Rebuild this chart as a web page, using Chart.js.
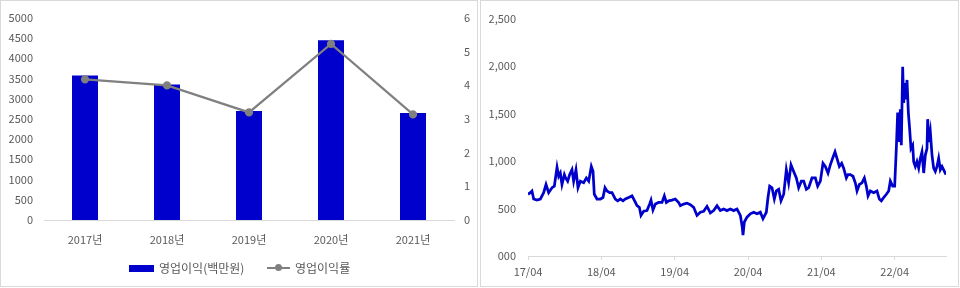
<!DOCTYPE html>
<html>
<head>
<meta charset="utf-8">
<script src="https://cdn.jsdelivr.net/npm/chart.js@4.4.0/dist/chart.umd.min.js"></script>
<style>
  body { margin: 0; background: #fff; width: 960px; height: 288px; overflow: hidden; }
  .wrap { position: absolute; top: 0; }
  .frame { position: absolute; top: 0; border: 1px solid #d9d9d9; box-sizing: border-box; pointer-events: none; }
  .legend { position: absolute; top: 259px; left: 0; width: 478px; height: 18px;
            font: 12px "Noto Sans CJK KR", sans-serif; color: #595959; }
  .legend span { position: absolute; top: 0; line-height: 18px; }
  .lg-box { position: absolute; left: 129px; top: 6px; width: 25px; height: 7px; background: #0000CC; }
  .lg-line { position: absolute; left: 267px; top: 8px; width: 23px; height: 2px; background: #808080; }
  .lg-dot { position: absolute; left: 275px; top: 5px; width: 7px; height: 7px; border-radius: 50%; background: #808080; }
</style>
</head>
<body>
<div class="wrap" style="left:0;width:478px;height:287px;"><canvas id="profit"></canvas></div>
<div class="legend" id="profit-legend"></div>
<div class="frame" style="left:0;width:478px;height:287px;"></div>

<div class="wrap" style="left:480px;width:479px;height:287px;"><canvas id="price"></canvas></div>
<div class="frame" style="left:480px;width:479px;height:287px;"></div>

<script>
// left chart: 영업이익 / 영업이익률
var years = ['2017년', '2018년', '2019년', '2020년', '2021년'];
var opProfit = [3570, 3350, 2695, 4440, 2645];
var opMargin = [4.17, 3.99, 3.19, 5.22, 3.13];
var profitLabel = '영업이익(백만원)';
var marginLabel = '영업이익률';

// right chart: share price, x = months since 17/04
var xTickValues = [0, 12, 24, 36, 48, 60];
var xTickLabels = ['17/04', '18/04', '19/04', '20/04', '21/04', '22/04'];
var yTickLabels = ['000', '500', '1,000', '1,500', '2,000', '2,500'];
var priceMonths = [0.0, 0.38, 0.65, 0.93, 1.47, 2.02, 2.56, 2.95, 3.38, 3.93, 4.31, 4.75, 5.02, 5.29, 5.56, 5.95,
  6.16, 6.49, 6.82, 7.2, 7.47, 7.85, 8.18, 8.56, 9.11, 9.55, 9.93, 10.36, 10.64, 10.85, 11.29, 11.84,
  12.27, 12.6, 12.93, 13.36, 13.75, 14.29, 14.67, 15.11, 15.55, 15.93, 16.47, 17.02, 17.45, 17.84, 18.22, 18.49,
  18.93, 19.47, 19.91, 20.13, 20.45, 20.84, 21.38, 21.93, 22.31, 22.64, 23.02, 23.56, 24.11, 24.65, 24.93, 25.47,
  26.02, 26.56, 27.11, 27.65, 28.2, 28.75, 29.29, 29.84, 30.38, 30.93, 31.47, 32.02, 32.56, 33.11, 33.65, 34.2,
  34.75, 35.07, 35.18, 35.4, 35.84, 36.38, 36.93, 37.47, 38.02, 38.45, 39.0, 39.27, 39.55, 39.93, 40.31, 40.64,
  41.02, 41.4, 41.84, 42.27, 42.65, 43.04, 43.47, 43.91, 44.29, 44.73, 45.11, 45.55, 45.93, 46.47, 47.02, 47.4,
  47.84, 48.27, 48.65, 49.09, 49.47, 49.85, 50.24, 50.56, 50.95, 51.33, 51.65, 52.09, 52.36, 52.75, 53.18, 53.56,
  53.84, 54.22, 54.65, 55.04, 55.36, 55.64, 56.02, 56.56, 57.11, 57.49, 57.82, 58.2, 58.64, 59.02, 59.29, 59.67,
  60.0, 60.27, 60.49, 60.71, 60.93, 61.09, 61.31, 61.47, 61.69, 61.85, 62.02, 62.24, 62.45, 62.67, 62.95, 63.11,
  63.38, 63.65, 63.93, 64.2, 64.47, 64.75, 65.02, 65.29, 65.4, 65.62, 65.84, 66.11, 66.38, 66.65, 66.93, 67.2,
  67.47, 67.75, 68.02, 68.4];
var prices = [650, 667, 685, 600, 588, 600, 667, 753, 667, 719, 736, 935, 840, 874, 753, 857,
  822, 788, 857, 908, 788, 908, 719, 788, 771, 822, 788, 943, 891, 650, 600, 600,
  616, 719, 685, 667, 667, 600, 581, 600, 581, 600, 616, 633, 581, 530, 513, 427,
  471, 478, 547, 588, 485, 547, 564, 564, 633, 564, 581, 588, 600, 564, 530, 547,
  557, 540, 513, 427, 461, 471, 523, 454, 478, 530, 478, 495, 478, 495, 478, 495,
  427, 300, 220, 358, 409, 444, 461, 444, 461, 392, 461, 616, 736, 719, 600, 685,
  702, 581, 650, 908, 771, 960, 891, 822, 719, 788, 788, 702, 719, 822, 822, 736,
  788, 977, 943, 874, 960, 1029, 1097, 1029, 943, 977, 925, 822, 857, 857, 840, 771,
  685, 753, 771, 822, 736, 633, 685, 667, 685, 600, 581, 616, 650, 685, 788, 736,
  736, 1132, 1510, 1201, 1545, 1166, 1992, 1613, 1820, 1648, 1854, 1510, 1338, 1132, 1166, 994,
  943, 994, 925, 1029, 1097, 874, 1063, 1132, 1441, 1201, 1304, 1063, 925, 891, 943, 1029,
  908, 943, 908, 857];

Chart.defaults.font.family = '"Noto Sans CJK KR", "Noto Sans", sans-serif';
Chart.defaults.font.size = 11;
Chart.defaults.color = '#595959';
Chart.defaults.animation = false;

var profitChart = new Chart(document.getElementById('profit'), {
    type: 'bar',
    data: {
        labels: years,
        datasets: [{
            type: 'line',
            label: marginLabel,
            data: opMargin,
            yAxisID: 'y1',
            borderColor: '#808080',
            backgroundColor: '#808080',
            borderWidth: 2.25,
            pointRadius: 3,
            pointBackgroundColor: '#808080',
            pointBorderColor: '#808080',
            tension: 0,
            order: 0
        }, {
            label: profitLabel,
            data: opProfit,
            yAxisID: 'y',
            backgroundColor: '#0000CC',
            categoryPercentage: 1,
            barPercentage: 0.317,
            order: 1
        }]
    },
    options: {
        responsive: true, maintainAspectRatio: false,
        layout: { padding: { top: 14, left: 0, right: 0, bottom: 0 } },
        plugins: { legend: { display: false }, tooltip: { enabled: false } },
        scales: {
            x: {
                grid: { display: false },
                border: { color: '#d9d9d9' },
                ticks: { padding: 5 },
                afterFit: function (scale) { scale.height = 67; }
            },
            y: {
                position: 'left', min: 0, max: 5000,
                grid: { display: false, drawTicks: false },
                border: { display: false },
                ticks: {
                    stepSize: 500, padding: 11,
                    callback: function (v) { return String(v); }
                },
                afterFit: function (scale) { scale.width = 44; }
            },
            y1: {
                position: 'right', min: 0, max: 6,
                grid: { display: false, drawTicks: false },
                border: { display: false },
                ticks: { stepSize: 1, padding: 10 },
                afterFit: function (scale) { scale.width = 24; }
            }
        }
    }
});

// html legend for the left chart
var lg = document.getElementById('profit-legend');
lg.innerHTML = '<div class="lg-box"></div><span style="left:159px">' + profitLabel + '</span>' +
    '<div class="lg-line"></div><div class="lg-dot"></div><span style="left:295px">' + marginLabel + '</span>';

var pricePoints = priceMonths.map(function (m, i) { return { x: m, y: prices[i] }; });

var priceChart = new Chart(document.getElementById('price'), {
    type: 'line',
    data: {
        datasets: [{
            data: pricePoints,
            borderColor: '#0000CC',
            borderWidth: 2.75,
            pointRadius: 0,
            tension: 0
        }]
    },
    options: {
        responsive: true, maintainAspectRatio: false,
        layout: { padding: { top: 14, left: 0, right: 13, bottom: 0 } },
        plugins: { legend: { display: false }, tooltip: { enabled: false } },
        scales: {
            x: {
                type: 'linear', min: 0, max: 68.4,
                grid: { display: true, drawOnChartArea: false, color: '#d9d9d9', tickLength: 4 },
                border: { color: '#d9d9d9' },
                afterBuildTicks: function (scale) {
                    scale.ticks = xTickValues.map(function (v) { return { value: v }; });
                },
                ticks: {
                    padding: 5,
                    callback: function (v, i) { return xTickLabels[i]; }
                },
                afterFit: function (scale) { scale.height = 31; }
            },
            y: {
                min: 0, max: 2500,
                grid: { display: false, drawTicks: false },
                border: { display: false },
                ticks: {
                    stepSize: 500, padding: 12,
                    callback: function (v, i) { return yTickLabels[i]; }
                },
                afterFit: function (scale) { scale.width = 48; }
            }
        }
    }
});
</script>
</body>
</html>
